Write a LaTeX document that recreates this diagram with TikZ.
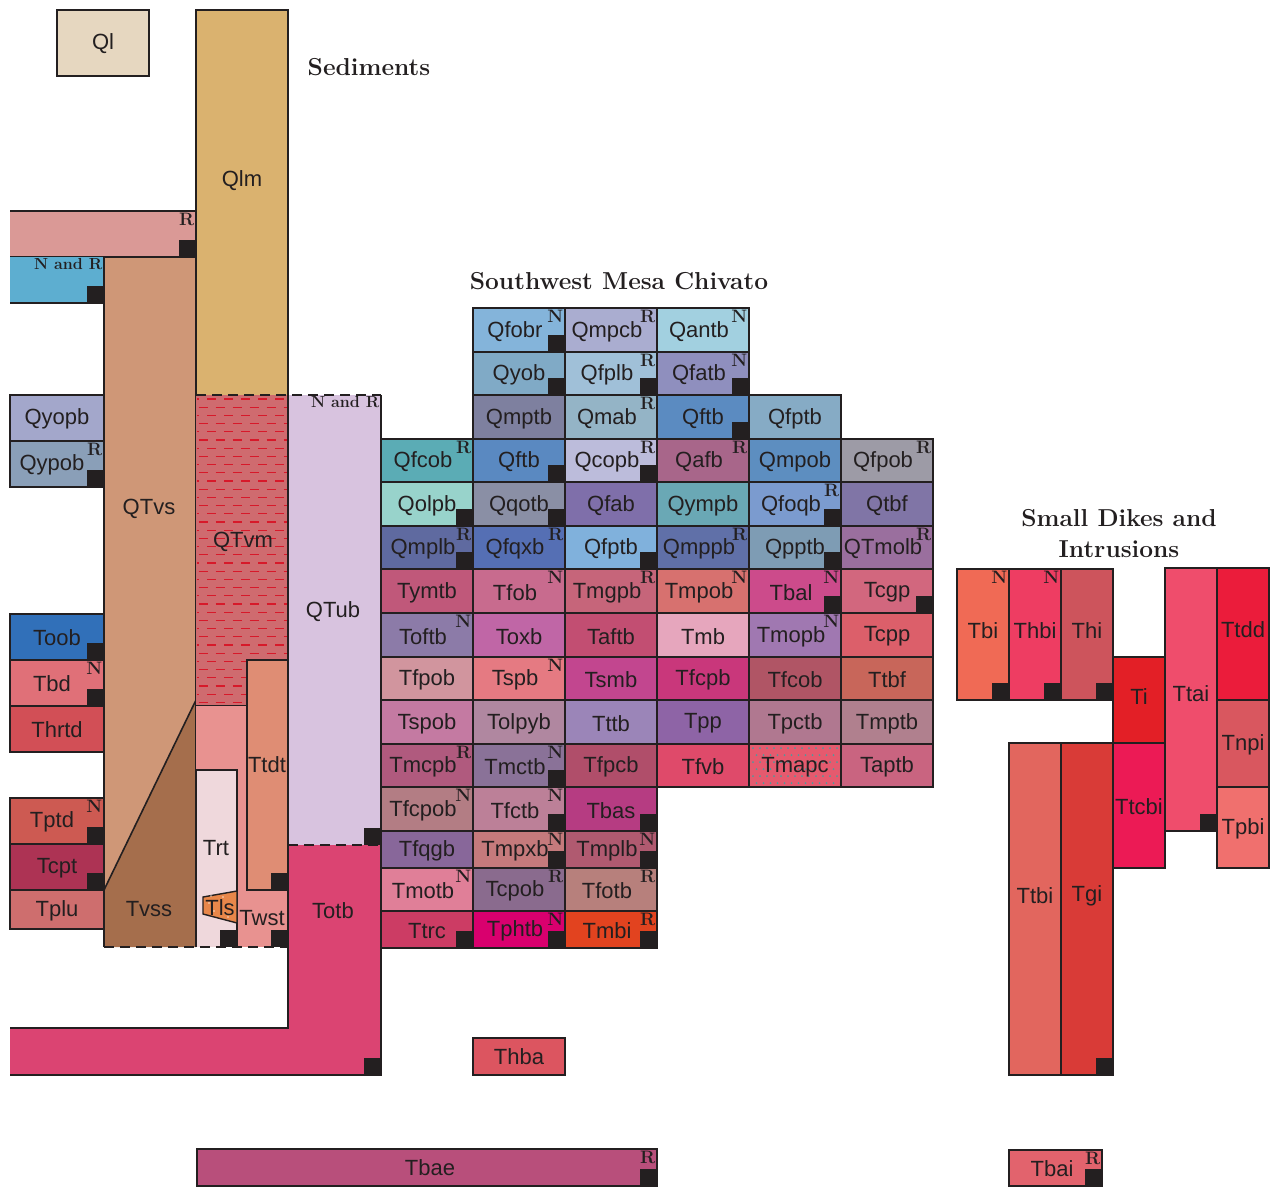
\documentclass[tikz,border=0pt]{standalone}
\usepackage{fontspec}
\setsansfont{Liberation Sans}
\usepackage{xcolor}
\usepackage{tikz}
\definecolor{ink}{HTML}{231F20}
\definecolor{qlc}{HTML}{E6D7C0}
\definecolor{qlmc}{HTML}{DAB26F}
\definecolor{pinkc}{HTML}{DA9996}
\definecolor{bluec}{HTML}{5DAED0}
\definecolor{qtvsc}{HTML}{CF9777}
\definecolor{tvssc}{HTML}{A56E4C}
\definecolor{qtvmc}{HTML}{CF6B6F}
\definecolor{hatchc}{HTML}{D7192A}
\definecolor{qtubc}{HTML}{D8C3DF}
\definecolor{twstc}{HTML}{E89290}
\definecolor{trtc}{HTML}{EFD8DC}
\definecolor{ttdtc}{HTML}{DF8D74}
\definecolor{tlsc}{HTML}{E8874A}
\definecolor{totbc}{HTML}{DB4472}
\definecolor{dotc}{HTML}{4E9A9C}

\begin{document}
\begin{tikzpicture}[x=1pt,y=-1pt,
 cell/.style={draw=ink,line width=1.6pt,inner sep=0pt,outer sep=0pt,minimum width=92pt},
 lbl/.style={text=ink,inner sep=0pt,font=\sffamily\fontsize{22}{22}\selectfont},
 nr/.style={anchor=north east,inner sep=1.5pt,text=ink,font=\bfseries\fontsize{18}{18}\selectfont},
 nrwide/.style={nr,font=\bfseries\fontsize{16}{16}\selectfont},
 head/.style={text=ink,align=center,font=\bfseries\fontsize{24.5}{31}\selectfont},
 rim/.style={draw=ink,line width=1.6pt},
 brk/.style={draw=ink,line width=2pt,dash pattern=on 10pt off 6pt},
 qhatch/.style={draw=hatchc,line width=1.1pt,dash pattern=on 9pt off 8pt}]
\useasboundingbox (0,0) rectangle (1271,1187);

\node[cell,fill=qlc,minimum height=66pt] (Ql) at (103,43) {};
\node[lbl] (Ql-t) at (103,44) {Ql};
\fill[qlmc] (196,10) rectangle (288,395);
\draw[rim] (196,395) |- (288,10) -- (288,395);
\node[lbl] (Qlm) at (242,181) {Qlm};
\node[head] (sed) at (369,67) {Sediments};

\fill[pinkc] (10,211) rectangle (196,257);
\draw[rim] (10,211) -- (196,211) -- (196,257) -- (10,257);
\node[nr] (pink-s) at (196,211) {R};
\coordinate (pinkq) at (196,257);
\fill[bluec] (10,257) rectangle (104,303);
\draw[rim] (10,303) -- (104,303) -- (104,257);
\node[nrwide] (blue-s) at (104,257) {N and R};
\coordinate (blueq) at (104,303);

\fill[qtvsc] (104,257) rectangle (196,947);
\fill[tvssc] (104,890) -- (196,700) -- (196,947) -- (104,947) -- cycle;
\draw[rim] (104,947) -- (104,257) -- (196,257) -- (196,947);
\draw[rim] (104,890) -- (196,700);
\node[lbl] (QTvs) at (149,509) {QTvs};
\node[lbl] (Tvss) at (149,909) {Tvss};

\fill[qtvmc] (196,395) rectangle (288,706);
\begin{scope}
\clip (197,396) rectangle (287,705);
\foreach \j in {0,...,37}{
 \pgfmathsetmacro\ph{mod(\j,2)*8.5}
 \draw[qhatch,dash phase=\ph pt] (190,{399+8.2*\j}) -- (290,{399+8.2*\j});
}
\end{scope}
\draw[rim] (196,706) -- (288,706);
\node[lbl] (QTvm) at (243,542) {QTvm};

\fill[twstc] (196,706) rectangle (288,947);
\draw[rim,fill=trtc] (196,947) |- (237,770) -- (237,947);
\node[cell,fill=ttdtc,minimum width=41pt,minimum height=230pt] (Ttdt) at (267.5,775) {};
\node[lbl] (Ttdt-t) at (267,765) {Ttdt};
\draw[rim,line width=1.4pt,fill=tlsc] (203,897) -- (237,891) -- (237,923) -- (203,914) -- cycle;
\foreach \p in {(209,903),(214,911),(223,897),(231,904),(228,917),(211,896),(233,912)}
 \fill[white,opacity=.7] \p circle (0.9);
\node[lbl] (Tls) at (220,908) {Tls};
\node[lbl] (Trt) at (216,848) {Trt};
\node[lbl] (Twst) at (262,918) {Twst};
\coordinate (trtq) at (237,947);
\coordinate (twstq) at (288,947);
\draw[brk] (104,947) -- (288,947);

\fill[qtubc] (288,395) rectangle (381,845);
\fill[totbc] (288,845) -- (381,845) -- (381,1075) -- (10,1075) -- (10,1028) -- (288,1028) -- cycle;
\draw[rim] (288,395) -- (288,1028) -- (10,1028);
\draw[rim] (10,1075) -- (381,1075) -- (381,395);
\draw[brk] (196,395) -- (381,395);
\draw[brk] (288,845) -- (381,845);
\node[nrwide] (QTub-s) at (381,395) {N and R};
\node[lbl] (QTub) at (333,612) {QTub};
\node[lbl] (Totb) at (333,911) {Totb};
\coordinate (qtubq) at (381,845);
\coordinate (totbq) at (381,1075);

\foreach \y/\h/\nm/\hx/\mk/\bq in {418/46/Qyopb/A3A7CB/-/0,464/46/Qypob/8A9FB8/R/1,637/46/Toob/3170B9/-/1,
 683/46/Tbd/E07078/N/1,729/46/Thrtd/D24F56/-/0,821/46/Tptd/CD5A52/N/1,867/46/Tcpt/AD3354/-/1,909.5/39/Tplu/CE6E6E/-/0}{
 \definecolor{cur}{HTML}{\hx}
 \node[cell,fill=cur,minimum width=94pt,minimum height=\h pt] (\nm) at (57,\y) {};
 \if\mk-\node[lbl] (\nm-t) at ([yshift=-1pt]\nm.center) {\nm};
 \else\node[lbl] (\nm-t) at ([xshift=-5pt,yshift=-1pt]\nm.center) {\nm};
 \node[nr] (\nm-s) at (\nm.north east) {\mk};\fi
 \ifnum\bq=1 \fill[ink] (\nm.south east) rectangle ++(-17,-17);\fi
}

\node[head] (swmc) at (619,281) {Southwest Mesa Chivato};
\foreach \cx/\ry/\nm/\hx/\mk/\bq in {1/0/Qfobr/84B4DA/N/1,2/0/Qmpcb/AAADD0/R/0,3/0/Qantb/A2D0E0/N/0,
 1/1/Qyob/80AAC6/-/1,2/1/Qfplb/A0C0D8/R/1,3/1/Qfatb/8F8FBE/N/1,
 1/2/Qmptb/7E809F/-/0,2/2/Qmab/94B4C6/R/0,3/2/Qftb/5B8BC1/-/1,4/2/Qfptb/86ABC5/-/0,
 0/3/Qfcob/5BACB5/R/0,1/3/Qftb/5A89C1/-/1,2/3/Qcopb/BCBCDB/R/1,3/3/Qafb/A8668A/R/0,4/3/Qmpob/5D8EC0/-/0,5/3/Qfpob/9D9BA6/R/0,
 0/4/Qolpb/98D3CB/-/1,1/4/Qqotb/8A8FA5/-/1,2/4/Qfab/7F6FAA/-/0,3/4/Qympb/6AA8B5/-/0,4/4/Qfoqb/7B9BCF/R/1,5/4/Qtbf/8075A6/-/0,
 0/5/Qmplb/5F6AA0/R/1,1/5/Qfqxb/556FB4/R/0,2/5/Qfptb/80B1DC/-/1,3/5/Qmppb/6070A8/R/0,4/5/Qpptb/7E9CB4/-/1,5/5/QTmolb/9A6F9E/R/0,
 0/6/Tymtb/C0587A/-/0,1/6/Tfob/C86B8E/N/0,2/6/Tmgpb/C6657A/R/0,3/6/Tmpob/D7716F/N/0,4/6/Tbal/CC4B8B/N/1,5/6/Tcgp/D2677E/-/1,
 0/7/Toftb/8C7BA8/N/0,1/7/Toxb/C066A6/-/0,2/7/Taftb/C24E72/-/0,3/7/Tmb/E6A6BD/-/0,4/7/Tmopb/A078B1/N/0,5/7/Tcpp/DC5F6A/-/0,
 0/8/Tfpob/D1959E/-/0,1/8/Tspb/E57A82/N/0,2/8/Tsmb/C2468F/-/0,3/8/Tfcpb/C9377B/-/0,4/8/Tfcob/B05565/-/0,5/8/Ttbf/C8665A/-/0,
 0/9/Tspob/C47AA2/-/0,1/9/Tolpyb/B087A0/-/0,2/9/Tttb/9B85B8/-/0,3/9/Tpp/8E64A6/-/0,4/9/Tpctb/B07890/-/0,5/9/Tmptb/B0808E/-/0,
 0/10/Tmcpb/B05A7E/R/0,1/10/Tmctb/8A7298/N/1,2/10/Tfpcb/B04E6A/-/0,3/10/Tfvb/DF4A6A/-/0,4/10/Tmapc/E55A6E/-/0,5/10/Taptb/C96480/-/0,
 0/11/Tfcpob/B37D84/N/0,1/11/Tfctb/BC8098/N/1,2/11/Tbas/B63C82/-/1,
 0/12/Tfqgb/88679A/-/0,1/12/Tmpxb/C57A7C/N/1,2/12/Tmplb/B05A70/N/1,
 0/13/Tmotb/E07F98/N/0,1/13/Tcpob/8A6B8E/R/0,2/13/Tfotb/B7807C/R/0,
 0/14/Ttrc/CC3C64/-/1,1/14/Tphtb/D9006E/N/1,2/14/Tmbi/E2431F/R/1}{
 \pgfmathsetmacro\yt{{308,352,395,439,482,526,569,613,657,700,744,787,831,868,911,948}[\ry]}
 \pgfmathsetmacro\yb{{308,352,395,439,482,526,569,613,657,700,744,787,831,868,911,948}[\ry+1]}
 \pgfmathsetmacro\hh{\yb-\yt}
 \definecolor{cur}{HTML}{\hx}
 \node[cell,fill=cur,minimum height=\hh pt] (g\cx-\ry) at ({427+92*\cx},{(\yt+\yb)/2}) {};
 \ifnum\cx\ry=410
  \begin{scope}
  \clip (750,745) rectangle (840,786);
  \foreach \i in {0,...,12} \foreach \k in {0,...,5}
   \fill[dotc] ({753+7*\i+3.5*mod(\k,2)},{748+7*\k}) circle (1.0);
  \end{scope}
 \fi
 \if\mk-\node[lbl] (g\cx-\ry-t) at ([yshift=-1.5pt]g\cx-\ry.center) {\nm};
 \else\node[lbl] (g\cx-\ry-t) at ([xshift=-4pt,yshift=-1.5pt]g\cx-\ry.center) {\nm};
 \node[nr] (g\cx-\ry-s) at (g\cx-\ry.north east) {\mk};\fi
 \ifnum\bq=1 \fill[ink] (g\cx-\ry.south east) rectangle ++(-17,-17);\fi
}
\node[cell,fill={rgb,255:red,220;green,85;blue,96},minimum height=37pt] (Thba) at (519,1056.5) {};
\node[lbl] (Thba-t) at (519,1057) {Thba};
\node[cell,fill={rgb,255:red,184;green,79;blue,123},minimum width=460pt,minimum height=37pt] (Tbae) at (427,1167.5) {};
\node[lbl] (Tbae-t) at (430,1168) {Tbae};

\node[head] (sdi) at (1119,534) {Small Dikes and\\Intrusions};
\foreach \x/\y/\h/\ly/\nm/\hx in {983/634.5/131/631/Tbi/F06A55,1035/634.5/131/631/Thbi/EE3D62,
 1087/634.5/131/631/Thi/CD545C,1139/700/86/697/Ti/E31F26,1139/805.5/125/807/Ttcbi/EC1A55,
 1191/699.5/263/694/Ttai/EF4D6C,1243/634/132/630/Ttdd/EB1C3B,1243/743.5/87/745/Tnpi/D9575F,
 1243/827.5/81/829/Tpbi/F0706E,1035/909/332/896/Ttbi/E2665E,1087/909/332/896/Tgi/D93B37}{
 \definecolor{cur}{HTML}{\hx}
 \node[cell,fill=cur,minimum width=52pt,minimum height=\h pt] (\nm) at (\x,\y) {};
 \node[lbl] (\nm-t) at (\x,\ly) {\nm};
}
\node[cell,fill={rgb,255:red,226;green,99;blue,109},minimum width=93pt,minimum height=36pt] (Tbai) at (1055.5,1168) {};
\node[lbl] (Tbai-t) at (1052,1169) {Tbai};

\foreach \n/\l in {Tbae/R,Tbai/R,Tbi/N,Thbi/N}
 \node[nr] (\n-s) at (\n.north east) {\l};
\foreach \n in {Tbae,Tbai,Tbi,Thbi,Thi,Ttai,Tgi,Ttdt,pinkq,blueq,qtubq,totbq,twstq,trtq}
 \fill[ink] (\n.south east) rectangle ++(-17,-17);
\end{tikzpicture}
\end{document}
